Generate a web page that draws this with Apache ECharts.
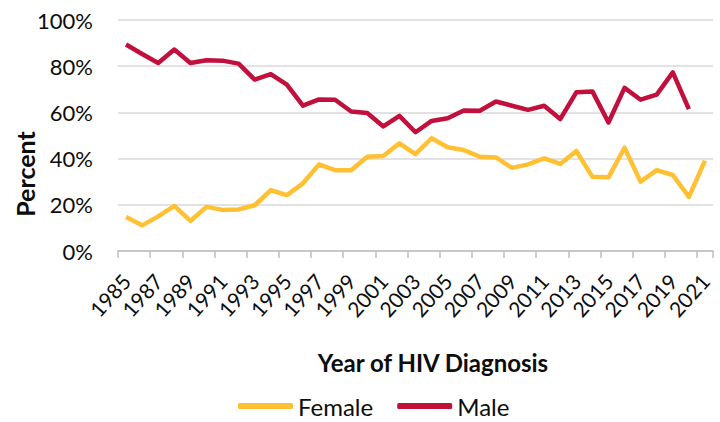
<!DOCTYPE html>
<html>
<head>
<meta charset="utf-8">
<script src="https://cdn.jsdelivr.net/npm/echarts@6/dist/echarts.min.js"></script>
<style>
html,body{margin:0;padding:0;background:#fff;}
#chart{width:720px;height:422px;}
</style>
</head>
<body>
<div id="chart"></div>
<script>
var years = ['1985','1986','1987','1988','1989','1990','1991','1992','1993','1994','1995','1996','1997','1998','1999','2000','2001','2002','2003','2004','2005','2006','2007','2008','2009','2010','2011','2012','2013','2014','2015','2016','2017','2018','2019','2020','2021'];
var female = [14.7,11.1,15.0,19.5,13.0,19.1,17.8,18.0,19.8,26.3,24.2,29.3,37.5,35.0,35.0,40.8,41.1,46.6,41.9,48.8,44.9,43.7,40.8,40.5,36.0,37.5,40.1,37.7,43.3,32.1,31.9,44.7,30.0,35.0,32.9,23.4,39.1];
var male = [89.4,85.3,81.4,87.2,81.4,82.6,82.4,81.1,74.2,76.6,72.0,62.9,65.6,65.5,60.4,59.7,53.9,58.5,51.4,56.3,57.5,60.8,60.7,64.7,62.9,61.1,62.9,57.1,68.7,69.1,55.6,70.6,65.5,67.7,77.3,61.4];
var yTicks = [0,20,40,60,80,100];

var FONT = 'Lato';
var chart = echarts.init(document.getElementById('chart'), null, {renderer:'svg'});
chart.setOption({
  animation:false,
  backgroundColor:'#ffffff',
  grid:{left:118,right:7,top:20,bottom:171,containLabel:false},
  title:{
    text:'Year of HIV Diagnosis',
    left:433, top:350, textAlign:'center', padding:0,
    textStyle:{fontFamily:FONT,fontSize:24,fontWeight:'bold',color:'#0d0d0d'}
  },
  graphic:[{
    type:'text', x:25, y:174, rotation:Math.PI/2,
    style:{text:'Percent', fontFamily:FONT, fontSize:25, fontWeight:'bold', fill:'#0d0d0d', align:'center', verticalAlign:'middle'}
  }],
  legend:{
    left:238, top:394, padding:0, itemWidth:55, itemHeight:6, itemGap:24,
    icon:'roundRect',
    textStyle:{fontFamily:FONT,fontSize:24,color:'#0d0d0d'},
    data:['Female','Male']
  },
  xAxis:{
    type:'category', data:years, boundaryGap:true,
    axisLine:{lineStyle:{color:'#bfbfbf',width:1.5}},
    axisTick:{show:true,interval:1,length:7,lineStyle:{color:'#bfbfbf',width:1.5}},
    axisLabel:{interval:1,rotate:48,margin:26,fontFamily:FONT,fontSize:21,color:'#0d0d0d'},
    splitLine:{show:false}
  },
  yAxis:{
    type:'value', min:yTicks[0], max:yTicks[yTicks.length-1], interval:20,
    axisLine:{show:false}, axisTick:{show:false},
    axisLabel:{formatter:'{value}%',margin:25,fontFamily:FONT,fontSize:22,color:'#0d0d0d'},
    splitLine:{lineStyle:{color:'#d9d9d9',width:1.5}}
  },
  series:[
    {name:'Female',type:'line',data:female,symbol:'none',lineStyle:{width:4.5,color:'#FFC133',join:'round'},itemStyle:{color:'#FFC133'}},
    {name:'Male',type:'line',data:male,symbol:'none',lineStyle:{width:4.5,color:'#C2103D',join:'round'},itemStyle:{color:'#C2103D'}}
  ]
});
</script>
</body>
</html>
